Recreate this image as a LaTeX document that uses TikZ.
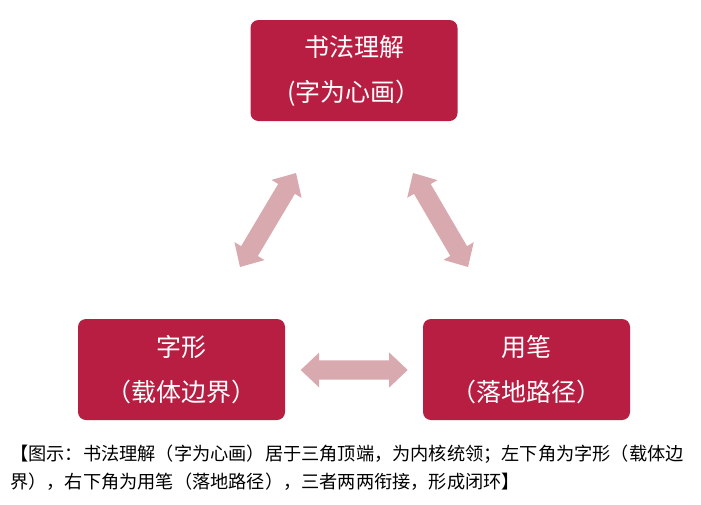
\documentclass[tikz,border=0pt]{standalone}
\usepackage{fontspec}
\setmainfont{Noto Sans CJK SC}
\newfontfamily\cjk{Noto Sans CJK SC}
\usetikzlibrary{calc}
\definecolor{boxred}{RGB}{183,30,66}
\definecolor{arrowpink}{RGB}{216,170,176}
\tikzset{
  corebox/.style={draw=none, fill=boxred, rounded corners=8pt, minimum width=207pt, minimum height=101pt,
    inner sep=0pt, text=white, align=center, font=\cjk\fontsize{25}{45}\selectfont},
  fatarrowfill/.style={fill=arrowpink, draw=none},
  captiontext/.style={inner sep=0pt, align=left, anchor=north west, font=\cjk\fontsize{18.2}{27.5}\selectfont}
}
\newcommand{\fatarrow}[2]{%
  \coordinate (ha) at ($(#1)!18.5pt!(#2)$);
  \coordinate (hb) at ($(#2)!18.5pt!(#1)$);
  \fill[fatarrowfill] (#1)
    -- ($(ha)!17.5pt!90:(#2)$) -- ($(ha)!9.7pt!90:(#2)$)
    -- ($(hb)!9.7pt!-90:(#1)$) -- ($(hb)!17.5pt!-90:(#1)$)
    -- (#2)
    -- ($(hb)!17.5pt!90:(#1)$) -- ($(hb)!9.7pt!90:(#1)$)
    -- ($(ha)!9.7pt!-90:(#2)$) -- ($(ha)!17.5pt!-90:(#2)$)
    -- cycle;
}
\begin{document}
\begin{tikzpicture}[x=1pt,y=-1pt]
\useasboundingbox[fill=white] (0,0) rectangle (701,504);
\node[corebox] (top) at (354,70.5) {书法理解\\(字为心画）};
\node[corebox] (left) at (181.5,369.5) {字形\\（载体边界）};
\node[corebox] (right) at (526.5,369.5) {用笔\\（落地路径）};
\coordinate (la) at (240,267);
\coordinate (lb) at (296,173);
\coordinate (ra) at (413,173);
\coordinate (rb) at (468,267);
\coordinate (ha1) at (300.7,370);
\coordinate (hb1) at (407.7,370);
\fatarrow{la}{lb}
\fatarrow{ra}{rb}
\fatarrow{ha1}{hb1}
\node[captiontext] (cap) at (10,445) {【图示：书法理解（字为心画）居于三角顶端，为内核统领；左下角为字形（载体边\\界），右下角为用笔（落地路径），三者两两衔接，形成闭环】};
\end{tikzpicture}
\end{document}
